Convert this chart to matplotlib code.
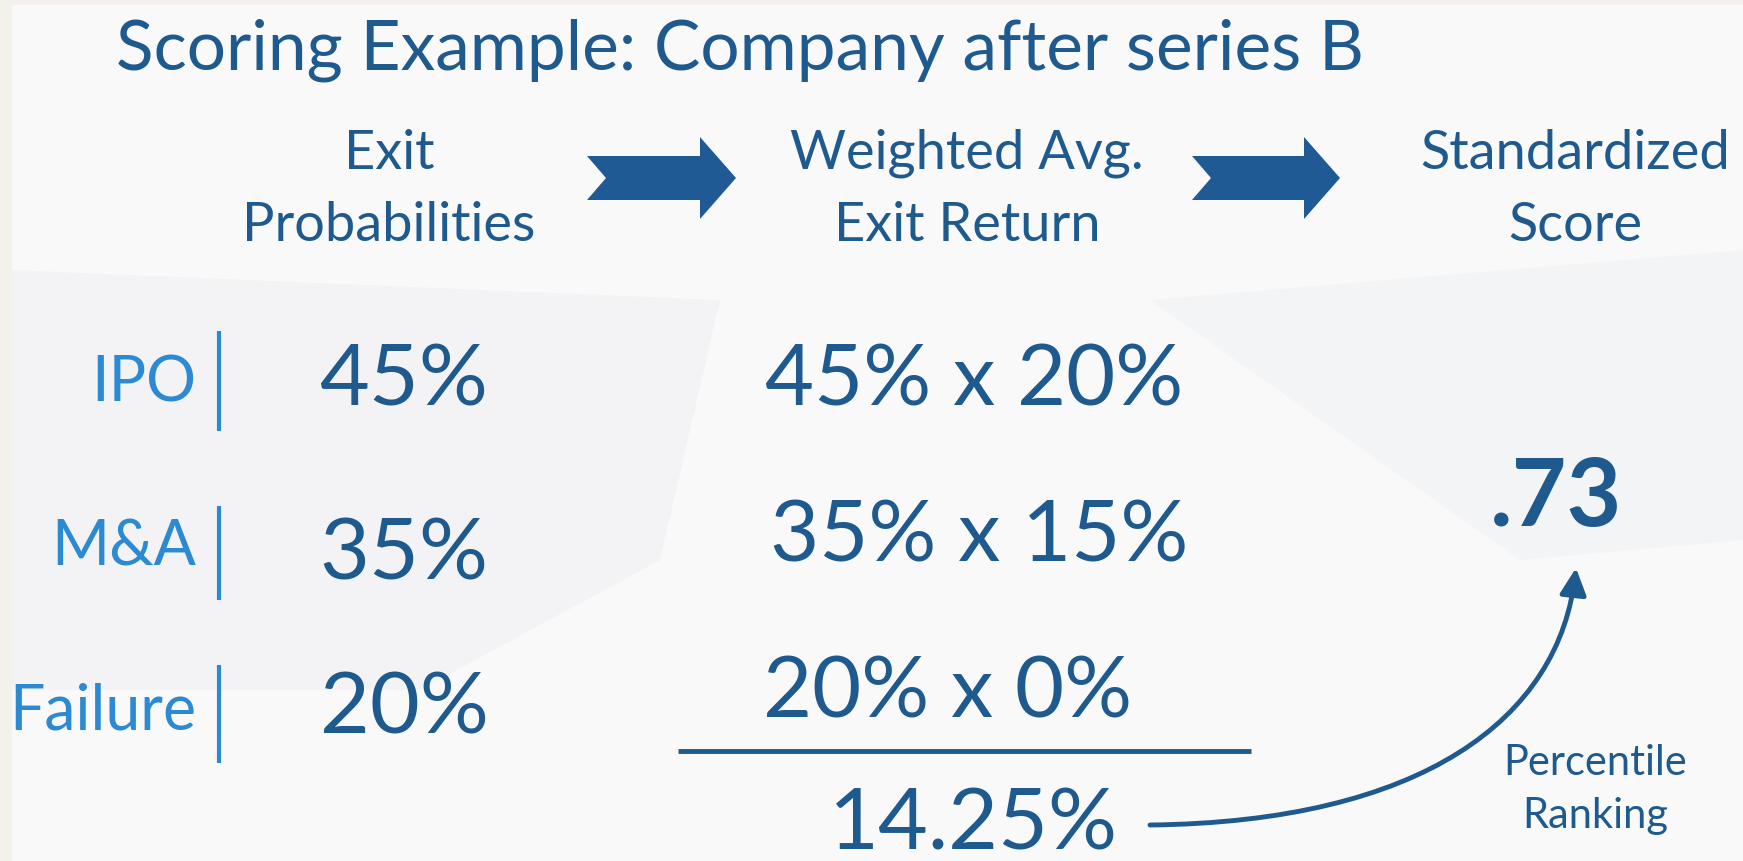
import matplotlib.pyplot as plt
from matplotlib.patches import Polygon, Rectangle, FancyArrowPatch
from matplotlib.path import Path

# slide content
title = "Scoring Example: Company after series B"
steps = [["Exit", "Probabilities"],
         ["Weighted Avg.", "Exit Return"],
         ["Standardized", "Score"]]
exits = ["IPO", "M&A", "Failure"]
probs = [45, 35, 20]
returns = [20, 15, 0]
weighted = 14.25
score = .73
score_note = ["Percentile", "Ranking"]

W, H = 1743, 861
DARK = "#1f5a8e"
LIGHT = "#2b8ad2"
FONT = "Lato"

fig = plt.figure(figsize=(W / 100, H / 100), dpi=100)
fig.patch.set_facecolor("#f4f1ea")
ax = fig.add_axes([0, 0, 1, 1])
ax.set_xlim(0, W)
ax.set_ylim(H, 0)
ax.axis("off")

# background with soft shading
ax.add_patch(Rectangle((12, 5), W - 12, H - 5, color="#f9f9fa", zorder=0))
ax.add_patch(Polygon([(12, 270), (720, 300), (660, 560), (420, 690), (12, 690)],
                     color="#e9eaec", alpha=0.35, lw=0, zorder=0))
ax.add_patch(Polygon([(1150, 300), (1743, 250), (1743, 540), (1520, 560)],
                     color="#eaebed", alpha=0.35, lw=0, zorder=0))


def txt(x, y, s, size, color=DARK, weight="normal", ha="center"):
    ax.text(x, y, s, fontsize=size, color=color, fontweight=weight,
            ha=ha, va="baseline", family=FONT, zorder=3)


txt(740, 69, title, 50)

# column headers
head_x = [389, 967, 1575]
for x, (l1, l2) in zip(head_x, steps):
    txt(x, 169, l1, 39)
    txt(x, 241, l2, 39)


def block_arrow(x0, x1, yc):
    body, head, notch = 22, 41, 19
    xh = x1 - 36
    pts = [(x0, yc - body), (xh, yc - body), (xh, yc - head), (x1, yc),
           (xh, yc + head), (xh, yc + body), (x0, yc + body), (x0 + notch, yc)]
    ax.add_patch(Polygon(pts, closed=True, color="#1f5a94", lw=0, zorder=2))


block_arrow(587, 736, 178)
block_arrow(1192, 1340, 178)

# rows
row_base = [402, 565, 730]
bar_span = [(331, 431), (506, 600), (665, 763)]
prod_base = [406, 561, 717]
prod_x = [974, 979, 948]
prob_base = [406, 580, 734]
for i, lab in enumerate(exits):
    txt(196, row_base[i], lab, 45, color=LIGHT, ha="right")
    ax.plot([219, 219], bar_span[i], color=LIGHT, lw=3, solid_capstyle="butt", zorder=3)
    txt(404, prob_base[i], f"{probs[i]}%", 62)
    txt(prod_x[i], prod_base[i], f"{probs[i]}% x {returns[i]}%", 61)

ax.plot([678, 1251], [751, 751], color=DARK, lw=3.5, solid_capstyle="butt", zorder=3)
txt(973, 850, f"{weighted:.2f}%", 62)

# score
txt(1556, 526, f"{score:.2f}".lstrip("0"), 68, weight="bold")
txt(1595, 775, score_note[0], 30)
txt(1595, 828, score_note[1], 30)

curve = Path([(1150, 825), (1420, 822), (1560, 720), (1576, 568)],
             [Path.MOVETO, Path.CURVE4, Path.CURVE4, Path.CURVE4])
ax.add_patch(FancyArrowPatch(path=curve, arrowstyle="-|>,head_length=16,head_width=8",
                             color=DARK, lw=3.5, zorder=3))

fig.savefig("out.png", dpi=100, facecolor=fig.get_facecolor())
